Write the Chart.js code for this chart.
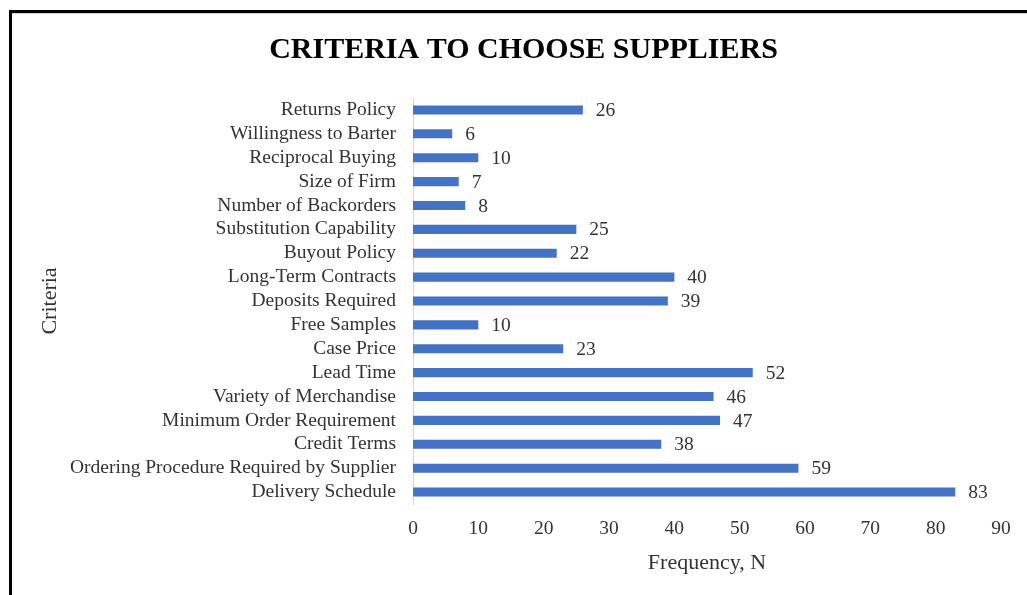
<!DOCTYPE html>
<html>
<head>
<meta charset="utf-8">
<script src="https://cdn.jsdelivr.net/npm/chart.js@4/dist/chart.umd.min.js"></script>
<style>
	html, body { margin: 0; padding: 0; background: #ffffff; overflow: hidden; }
	#wrap { position: relative; width: 1027px; height: 595px; }
	#frame {
		position: absolute; left: 9px; top: 10px; width: 1100px; height: 700px;
		border-top: 3px solid #000000; border-left: 3px solid #000000;
		box-shadow: inset 0 1px 0 #d0d0d0;
	}
	#chart_canvas { position: absolute; left: 0; top: 0; }
</style>
</head>
<body>
<div id="wrap">
	<div id="frame"></div>
	<canvas id="chart_canvas" width="1027" height="595"></canvas>
</div>
<script>
	'use strict';
	// supplier selection criteria, listed top to bottom
	const criteria = [
		'Returns Policy',
		'Willingness to Barter',
		'Reciprocal Buying',
		'Size of Firm',
		'Number of Backorders',
		'Substitution Capability',
		'Buyout Policy',
		'Long-Term Contracts',
		'Deposits Required',
		'Free Samples',
		'Case Price',
		'Lead Time',
		'Variety of Merchandise',
		'Minimum Order Requirement',
		'Credit Terms',
		'Ordering Procedure Required by Supplier',
		'Delivery Schedule'
	];
	const frequency = [26, 6, 10, 7, 8, 25, 22, 40, 39, 10, 23, 52, 46, 47, 38, 59, 83];
	const xTicks = [0, 10, 20, 30, 40, 50, 60, 70, 80, 90];

	const serif = '"Liberation Serif", "Times New Roman", serif';
	const textColor = '#333333';

	// writes the count just past the end of every bar
	const valueLabels = {
		id: 'valueLabels',
		afterDatasetsDraw(chart) {
			const ctx = chart.ctx;
			const meta = chart.getDatasetMeta(0);
			ctx.save();
			ctx.font = '19.5px ' + serif;
			ctx.fillStyle = textColor;
			ctx.textAlign = 'left';
			ctx.textBaseline = 'middle';
			meta.data.forEach(function (bar, i) {
				ctx.fillText(String(chart.data.datasets[0].data[i]), bar.x + 13, bar.y + 1);
			});
			ctx.restore();
		}
	};

	const ctx = document.getElementById('chart_canvas').getContext('2d');

	new Chart(ctx, {
		type: 'bar',
		data: {
			labels: criteria,
			datasets: [{
				label: 'Frequency',
				data: frequency,
				backgroundColor: '#4472C4',
				borderWidth: 0,
				categoryPercentage: 1,
				barPercentage: 0.38
			}]
		},
		options: {
			indexAxis: 'y',
			responsive: false,
			animation: false,
			layout: {
				padding: { left: 46, right: 26, top: 0, bottom: 0 }
			},
			plugins: {
				legend: { display: false },
				tooltip: { enabled: false },
				title: {
					display: true,
					text: 'CRITERIA TO CHOOSE SUPPLIERS',
					color: '#000000',
					font: { family: serif, size: 30, weight: 'bold' },
					padding: { top: 32, bottom: 30 }
				}
			},
			scales: {
				x: {
					min: 0,
					max: 90,
					afterBuildTicks: function (scale) {
						scale.ticks = xTicks.map(v => ({ value: v }));
					},
					afterFit: function (scale) { scale.height = 91; },
					grid: { display: false, drawTicks: false },
					border: { display: false },
					ticks: {
						color: textColor,
						padding: 13,
						font: { family: serif, size: 19.5 }
					},
					title: {
						display: true,
						text: 'Frequency, N',
						color: textColor,
						font: { family: serif, size: 22 },
						padding: { top: 0, bottom: 19 }
					}
				},
				y: {
					afterFit: function (scale) { scale.width = 367; },
					grid: { display: false, drawTicks: false },
					border: { display: true, color: '#d9d9d9', width: 1 },
					ticks: {
						color: textColor,
						padding: 17,
						autoSkip: false,
						font: { family: serif, size: 19.5 }
					},
					title: {
						display: true,
						text: 'Criteria',
						color: textColor,
						font: { family: serif, size: 22 },
						padding: { top: -9, bottom: 0 }
					}
				}
			}
		},
		plugins: [valueLabels]
	});
</script>
</body>
</html>
